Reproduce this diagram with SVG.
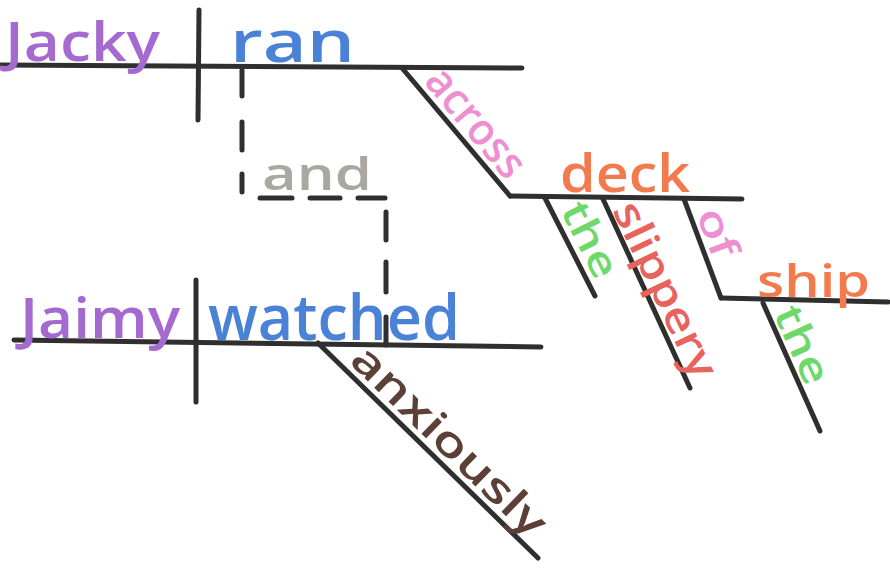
<svg xmlns="http://www.w3.org/2000/svg" width="890" height="568" viewBox="0 0 890 568">
<style>
.ln{stroke:#2f2f2f;stroke-width:5;stroke-linecap:round;fill:none}
.dash{stroke:#2f2f2f;stroke-width:5;stroke-linecap:round;fill:none}
text{font-family:"Open Sans","DejaVu Sans",sans-serif;font-weight:600}
.purple{fill:#a46ad0}
.blue{fill:#4a82d8}
.gray{fill:#a9a79f}
.pink{fill:#ee8fd2}
.orange{fill:#f27a4c}
.green{fill:#6ed86a}
.red{fill:#e8625e}
.brown{fill:#5c4038}
</style>
<rect width="890" height="568" fill="#ffffff"/>
<g id="connectors">
<line class="ln" x1="0" y1="65" x2="522" y2="68"/>
<line class="ln" x1="199" y1="10" x2="198" y2="120"/>
<line class="ln" x1="402" y1="68" x2="510" y2="196"/>
<line class="ln" x1="510" y1="196" x2="742" y2="199"/>
<line class="ln" x1="545" y1="198" x2="595" y2="296"/>
<line class="ln" x1="603" y1="199" x2="690" y2="388"/>
<line class="ln" x1="684" y1="199" x2="721" y2="298"/>
<line class="ln" x1="721" y1="298" x2="888" y2="302"/>
<line class="ln" x1="763" y1="303" x2="820" y2="431"/>
<line class="ln" x1="14" y1="340" x2="541" y2="347"/>
<line class="ln" x1="196" y1="280" x2="196" y2="402"/>
<line class="ln" x1="318" y1="343" x2="538" y2="558"/>
<g id="conj-dashes">
<line class="dash" x1="242" y1="70" x2="242" y2="96"/>
<line class="dash" x1="242" y1="122" x2="242" y2="150"/>
<line class="dash" x1="242" y1="174" x2="242" y2="192"/>
<line class="dash" x1="260" y1="198" x2="292" y2="198"/>
<line class="dash" x1="310" y1="198" x2="340" y2="198"/>
<line class="dash" x1="358" y1="198" x2="385" y2="198"/>
<line class="dash" x1="386" y1="212" x2="386" y2="240"/>
<line class="dash" x1="386" y1="262" x2="386" y2="292"/>
<line class="dash" x1="386" y1="317" x2="386" y2="345"/>
</g>
</g>
<g id="Jacky"><text class="purple" x="5" y="61" font-size="54" textLength="155" lengthAdjust="spacingAndGlyphs">Jacky</text></g>
<g id="ran"><text class="blue" x="230" y="62" font-size="58" textLength="125" lengthAdjust="spacingAndGlyphs">ran</text></g>
<g id="and"><text class="gray" x="262" y="190" font-size="46" textLength="110" lengthAdjust="spacingAndGlyphs">and</text></g>
<g id="across"><text class="pink" transform="translate(423,82) rotate(50)" font-size="44" textLength="130" lengthAdjust="spacingAndGlyphs">across</text></g>
<g id="deck"><text class="orange" x="560" y="192" font-size="52" textLength="130" lengthAdjust="spacingAndGlyphs">deck</text></g>
<g id="the1"><text class="green" transform="translate(560,210) rotate(63.4)" font-size="40" textLength="80" lengthAdjust="spacingAndGlyphs">the</text></g>
<g id="slippery"><text class="red" transform="translate(612,210) rotate(64.6)" font-size="42" textLength="190" lengthAdjust="spacingAndGlyphs">slippery</text></g>
<g id="of"><text class="pink" transform="translate(696,214) rotate(69.3)" font-size="40" textLength="50" lengthAdjust="spacingAndGlyphs">of</text></g>
<g id="ship"><text class="orange" x="757" y="297" font-size="46" textLength="113" lengthAdjust="spacingAndGlyphs">ship</text></g>
<g id="the2"><text class="green" transform="translate(773,313) rotate(65.8)" font-size="40" textLength="82" lengthAdjust="spacingAndGlyphs">the</text></g>
<g id="Jaimy"><text class="purple" x="20" y="338" font-size="56" textLength="160" lengthAdjust="spacingAndGlyphs">Jaimy</text></g>
<g id="watched"><text class="blue" x="208" y="340" font-size="64" textLength="252" lengthAdjust="spacingAndGlyphs">watched</text></g>
<g id="anxiously"><text class="brown" transform="translate(348,362) rotate(44.3)" font-size="42" textLength="255" lengthAdjust="spacingAndGlyphs">anxiously</text></g>
</svg>
